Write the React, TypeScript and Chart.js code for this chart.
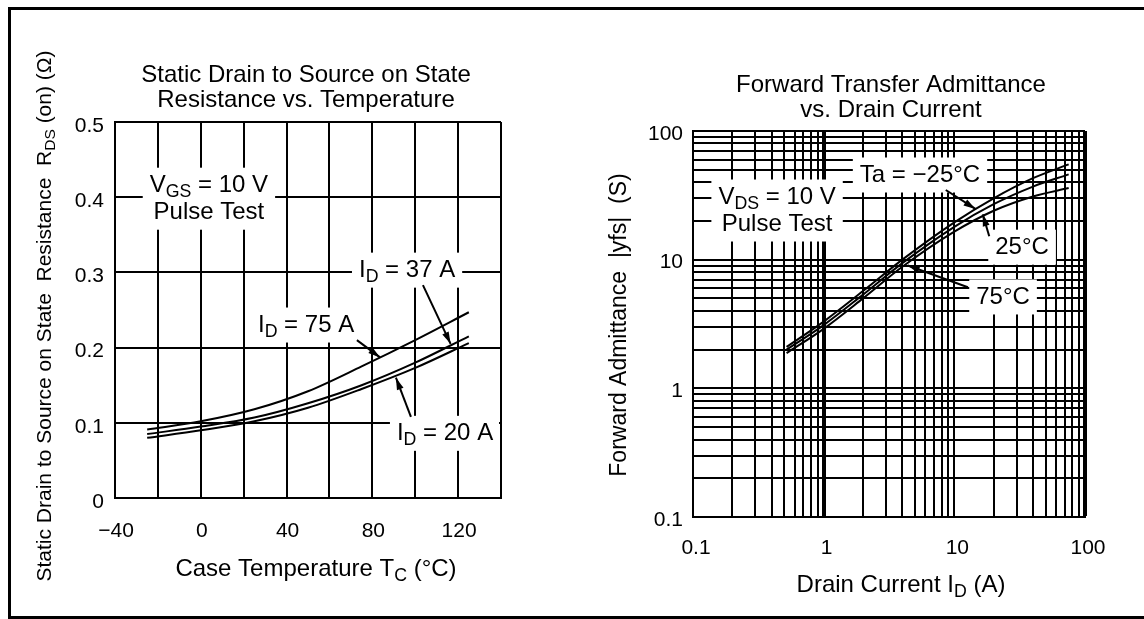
import React, { useEffect, useRef } from "react";
import { Chart, registerables } from "chart.js";

Chart.register(...registerables);

const FONT = '"Liberation Sans", Arial, Helvetica, sans-serif';

// ---------- Left chart: R_DS(on) vs. case temperature ----------
const CASE_TEMP = [-25, 0, 25, 50, 75, 100, 125];
const RDS_ID75 = [0.091, 0.102, 0.118, 0.142, 0.175, 0.21, 0.247];
const RDS_ID37 = [0.085, 0.095, 0.107, 0.126, 0.15, 0.18, 0.215];
const RDS_ID20 = [0.08, 0.09, 0.102, 0.12, 0.145, 0.173, 0.206];
const TEMP_GRID = [-40, -20, 0, 20, 40, 60, 80, 100, 120, 140];
const TEMP_LABEL_VALUES = [-40, 0, 40, 80, 120];
const TEMP_LABELS = ["\u221240", "0", "40", "80", "120"];
const RDS_GRID = [0, 0.1, 0.2, 0.3, 0.4, 0.5];
const RDS_LABELS = ["0", "0.1", "0.2", "0.3", "0.4", "0.5"];

// ---------- Right chart: |yfs| vs. drain current ----------
const DRAIN_CURRENT = [0.52, 1, 2, 4, 10, 20, 40, 75];
const YFS_TA_M25 = [2.1, 3.3, 5.7, 10.0, 19.5, 30, 43, 55];
const YFS_TA_25 = [2.0, 3.1, 5.35, 9.4, 18, 27, 37, 46];
const YFS_TA_75 = [1.88, 2.9, 5.0, 8.8, 16.5, 24, 31, 36];
const LOG_GRID = [
  0.1, 0.2, 0.3, 0.4, 0.5, 0.6, 0.7, 0.8, 0.9,
  1, 2, 3, 4, 5, 6, 7, 8, 9,
  10, 20, 30, 40, 50, 60, 70, 80, 90,
  100,
];
const LOG_LABEL_VALUES = [0.1, 1, 10, 100];
const LOG_LABELS = ["0.1", "1", "10", "100"];

// ---------- text helpers ----------
type Seg = [string, number]; // [text, isSubscript]
type TextLine = Seg[];
interface Note {
  x: number;
  y: number;
  lines: TextLine[];
  arrow?: [number, number, number, number];
}
interface Decor {
  title: string[];
  titleX: number;
  titleY: number;
  xTitle: TextLine;
  xTitleX: number;
  xTitleY: number;
  yTitle: TextLine;
  yTitleX: number;
  yTitleY: number;
  yTitleSize: number;
  notes: Note[];
}

const TITLE_SIZE = 24;
const NOTE_SIZE = 24;
const TICK_SIZE = 21;
const LINE_H = 27;
const SUB_SCALE = 0.74;

function fontOf(size: number) {
  return `${size}px ${FONT}`;
}

function measureLine(ctx: CanvasRenderingContext2D, line: TextLine, size: number) {
  let w = 0;
  for (const [t, s] of line) {
    ctx.font = fontOf(s ? size * SUB_SCALE : size);
    w += ctx.measureText(t).width;
  }
  return w;
}

function drawTextLine(ctx: CanvasRenderingContext2D, line: TextLine, cx: number, cy: number, size: number) {
  const w = measureLine(ctx, line, size);
  let x = cx - w / 2;
  ctx.textAlign = "left";
  ctx.textBaseline = "middle";
  ctx.fillStyle = "#000";
  for (const [t, s] of line) {
    ctx.font = fontOf(s ? size * SUB_SCALE : size);
    ctx.fillText(t, x, s ? cy + size * 0.28 : cy);
    x += ctx.measureText(t).width;
  }
}

function drawArrow(ctx: CanvasRenderingContext2D, x1: number, y1: number, x2: number, y2: number) {
  ctx.strokeStyle = "#000";
  ctx.fillStyle = "#000";
  ctx.lineWidth = 2;
  ctx.beginPath();
  ctx.moveTo(x1, y1);
  ctx.lineTo(x2, y2);
  ctx.stroke();
  const a = Math.atan2(y2 - y1, x2 - x1);
  const L = 12;
  const W = 3.5;
  ctx.beginPath();
  ctx.moveTo(x2, y2);
  ctx.lineTo(x2 - L * Math.cos(a) + W * Math.sin(a), y2 - L * Math.sin(a) - W * Math.cos(a));
  ctx.lineTo(x2 - L * Math.cos(a) - W * Math.sin(a), y2 - L * Math.sin(a) + W * Math.cos(a));
  ctx.closePath();
  ctx.fill();
}

function makeDecorPlugin(decor: Decor) {
  return {
    id: "decor",
    beforeDatasetsDraw(chart: any) {
      const ctx: CanvasRenderingContext2D = chart.ctx;
      const area = chart.chartArea;
      const xs = chart.scales.x;
      const ys = chart.scales.y;
      ctx.save();
      ctx.beginPath();
      ctx.rect(area.left + 2, area.top + 2, area.right - area.left - 4, area.bottom - area.top - 4);
      ctx.clip();
      ctx.fillStyle = "#fff";
      for (const n of decor.notes) {
        const px = xs.getPixelForValue(n.x);
        const py = ys.getPixelForValue(n.y);
        let w = 0;
        for (const l of n.lines) w = Math.max(w, measureLine(ctx, l, NOTE_SIZE));
        const h = n.lines.length * LINE_H + 8;
        ctx.fillStyle = "#fff";
        ctx.fillRect(px - w / 2 - 7, py - h / 2, w + 14, h);
      }
      ctx.restore();
    },
    afterDatasetsDraw(chart: any) {
      const ctx: CanvasRenderingContext2D = chart.ctx;
      const xs = chart.scales.x;
      const ys = chart.scales.y;
      ctx.save();
      for (const n of decor.notes) {
        const px = xs.getPixelForValue(n.x);
        const py = ys.getPixelForValue(n.y);
        const y0 = py - ((n.lines.length - 1) * LINE_H) / 2;
        n.lines.forEach((l, i) => drawTextLine(ctx, l, px, y0 + i * LINE_H, NOTE_SIZE));
        if (n.arrow) {
          const [ax1, ay1, ax2, ay2] = n.arrow;
          drawArrow(
            ctx,
            xs.getPixelForValue(ax1),
            ys.getPixelForValue(ay1),
            xs.getPixelForValue(ax2),
            ys.getPixelForValue(ay2)
          );
        }
      }
      decor.title.forEach((t, i) =>
        drawTextLine(ctx, [[t, 0]], decor.titleX, decor.titleY + i * 25, TITLE_SIZE)
      );
      drawTextLine(ctx, decor.xTitle, decor.xTitleX, decor.xTitleY, TITLE_SIZE);
      ctx.save();
      ctx.translate(decor.yTitleX, decor.yTitleY);
      ctx.rotate(-Math.PI / 2);
      drawTextLine(ctx, decor.yTitle, 0, 0, decor.yTitleSize);
      ctx.restore();
      ctx.restore();
    },
  };
}

const LEFT_DECOR: Decor = {
  title: ["Static Drain to Source on State", "Resistance vs. Temperature"],
  titleX: 306,
  titleY: 75,
  xTitle: [["Case Temperature T", 0], ["C", 1], [" (\u00b0C)", 0]],
  xTitleX: 316,
  xTitleY: 569,
  yTitle: [["Static Drain to Source on State  Resistance  R", 0], ["DS", 1], [" (on) (\u03a9)", 0]],
  yTitleX: 45,
  yTitleY: 316,
  yTitleSize: 21,
  notes: [
    { x: 3.8, y: 0.398, lines: [[["V", 0], ["GS", 1], [" = 10 V", 0]], [["Pulse Test", 0]]] },
    { x: 96.2, y: 0.303, lines: [[["I", 0], ["D", 1], [" = 37 A", 0]]], arrow: [103.6, 0.283, 116.5, 0.205] },
    { x: 49.1, y: 0.23, lines: [[["I", 0], ["D", 1], [" = 75 A", 0]]], arrow: [72.8, 0.21, 83.6, 0.187] },
    { x: 113.9, y: 0.086, lines: [[["I", 0], ["D", 1], [" = 20 A", 0]]], arrow: [98, 0.108, 91, 0.16] },
  ],
};

const RIGHT_DECOR: Decor = {
  title: ["Forward Transfer Admittance", "vs. Drain Current"],
  titleX: 319,
  titleY: 85,
  xTitle: [["Drain Current I", 0], ["D", 1], [" (A)", 0]],
  xTitleX: 329,
  xTitleY: 585,
  yTitle: [["Forward Admittance  |yfs|  (S)", 0]],
  yTitleX: 48,
  yTitleY: 325,
  yTitleSize: 23,
  notes: [
    { x: 0.44, y: 24.1, lines: [[["V", 0], ["DS", 1], [" = 10 V", 0]], [["Pulse Test", 0]]] },
    { x: 5.46, y: 45.5, lines: [[["Ta = \u221225\u00b0C", 0]]], arrow: [8.6, 34.8, 14.5, 24.8] },
    { x: 33, y: 12.5, lines: [[["25\u00b0C", 0]]], arrow: [18.5, 15.2, 16.5, 22.5] },
    { x: 23.6, y: 5.13, lines: [[["75\u00b0C", 0]]], arrow: [12.7, 6.1, 4.4, 9.0] },
  ],
};

function curve(xs: number[], ys: number[]) {
  return {
    data: xs.map((x, i) => ({ x, y: ys[i] })),
    showLine: true,
    borderColor: "#000",
    borderWidth: 2,
    pointRadius: 0,
    tension: 0.4,
    cubicInterpolationMode: "monotone",
  };
}

const tickFont = { family: FONT, size: TICK_SIZE };

function leftConfig(): any {
  return {
    type: "scatter",
    data: {
      datasets: [
        curve(CASE_TEMP, RDS_ID75),
        curve(CASE_TEMP, RDS_ID37),
        curve(CASE_TEMP, RDS_ID20),
      ],
    },
    options: {
      responsive: false,
      animation: false,
      events: [],
      layout: { padding: { left: 0, top: 122, right: 71, bottom: 61 } },
      plugins: { legend: { display: false }, tooltip: { enabled: false }, title: { display: false } },
      scales: {
        x: {
          type: "linear",
          min: -40,
          max: 140,
          afterBuildTicks: (s: any) => {
            s.ticks = TEMP_GRID.map((v) => ({ value: v }));
          },
          afterFit: (s: any) => {
            s.height = 60;
          },
          grid: { color: "#000", lineWidth: 2, drawTicks: false },
          border: { color: "#000", width: 2 },
          ticks: {
            autoSkip: false,
            maxRotation: 0,
            padding: 21,
            labelOffset: 1,
            color: "#000",
            font: tickFont,
            callback: (v: number) => {
              const i = TEMP_LABEL_VALUES.indexOf(v);
              return i >= 0 ? TEMP_LABELS[i] : "";
            },
          },
        },
        y: {
          type: "linear",
          min: 0,
          max: 0.5,
          afterBuildTicks: (s: any) => {
            s.ticks = RDS_GRID.map((v) => ({ value: v }));
          },
          afterFit: (s: any) => {
            s.width = 115;
          },
          grid: { color: "#000", lineWidth: 2, drawTicks: false },
          border: { color: "#000", width: 2 },
          ticks: {
            autoSkip: false,
            padding: 11,
            labelOffset: 4,
            color: "#000",
            font: tickFont,
            callback: (v: number) => {
              const i = RDS_GRID.indexOf(v);
              return i >= 0 ? RDS_LABELS[i] : "";
            },
          },
        },
      },
    },
    plugins: [makeDecorPlugin(LEFT_DECOR)],
  };
}

function rightConfig(): any {
  const logLabel = (v: number) => {
    const i = LOG_LABEL_VALUES.indexOf(v);
    return i >= 0 ? LOG_LABELS[i] : "";
  };
  return {
    type: "scatter",
    data: {
      datasets: [
        curve(DRAIN_CURRENT, YFS_TA_M25),
        curve(DRAIN_CURRENT, YFS_TA_25),
        curve(DRAIN_CURRENT, YFS_TA_75),
      ],
    },
    options: {
      responsive: false,
      animation: false,
      events: [],
      layout: { padding: { left: 0, top: 131, right: 59, bottom: 42 } },
      plugins: { legend: { display: false }, tooltip: { enabled: false }, title: { display: false } },
      scales: {
        x: {
          type: "logarithmic",
          min: 0.1,
          max: 100,
          afterBuildTicks: (s: any) => {
            s.ticks = LOG_GRID.map((v) => ({ value: v }));
          },
          afterFit: (s: any) => {
            s.height = 60;
          },
          grid: {
            color: "#000",
            lineWidth: (c: any) => (c.tick && (c.tick.value === 1 || c.tick.value === 100) ? 4 : 2),
            drawTicks: false,
          },
          border: { color: "#000", width: 2 },
          ticks: {
            autoSkip: false,
            maxRotation: 0,
            padding: 19,
            labelOffset: 3,
            color: "#000",
            font: tickFont,
            callback: logLabel,
          },
        },
        y: {
          type: "logarithmic",
          min: 0.1,
          max: 100,
          afterBuildTicks: (s: any) => {
            s.ticks = LOG_GRID.map((v) => ({ value: v }));
          },
          afterFit: (s: any) => {
            s.width = 121;
          },
          grid: { color: "#000", lineWidth: 2, drawTicks: false },
          border: { color: "#000", width: 2 },
          ticks: {
            autoSkip: false,
            padding: 10,
            labelOffset: 3,
            color: "#000",
            font: tickFont,
            callback: logLabel,
          },
        },
      },
    },
    plugins: [makeDecorPlugin(RIGHT_DECOR)],
  };
}

export default function App() {
  const leftRef = useRef<HTMLCanvasElement>(null);
  const rightRef = useRef<HTMLCanvasElement>(null);

  useEffect(() => {
    const a = new Chart(leftRef.current as HTMLCanvasElement, leftConfig());
    const b = new Chart(rightRef.current as HTMLCanvasElement, rightConfig());
    return () => {
      a.destroy();
      b.destroy();
    };
  }, []);

  return (
    <div
      style={{
        position: "fixed",
        left: 0,
        top: 0,
        width: 1144,
        height: 619,
        overflow: "hidden",
        background: "#fff",
      }}
    >
      <div
        style={{
          position: "absolute",
          left: 8,
          top: 7,
          width: 1200,
          height: 612,
          border: "3px solid #000",
          boxSizing: "border-box",
        }}
      />
      <canvas
        ref={leftRef}
        width={572}
        height={619}
        style={{ position: "absolute", left: 0, top: 0, width: 572, height: 619, display: "block" }}
      />
      <canvas
        ref={rightRef}
        width={572}
        height={619}
        style={{ position: "absolute", left: 572, top: 0, width: 572, height: 619, display: "block" }}
      />
    </div>
  );
}
